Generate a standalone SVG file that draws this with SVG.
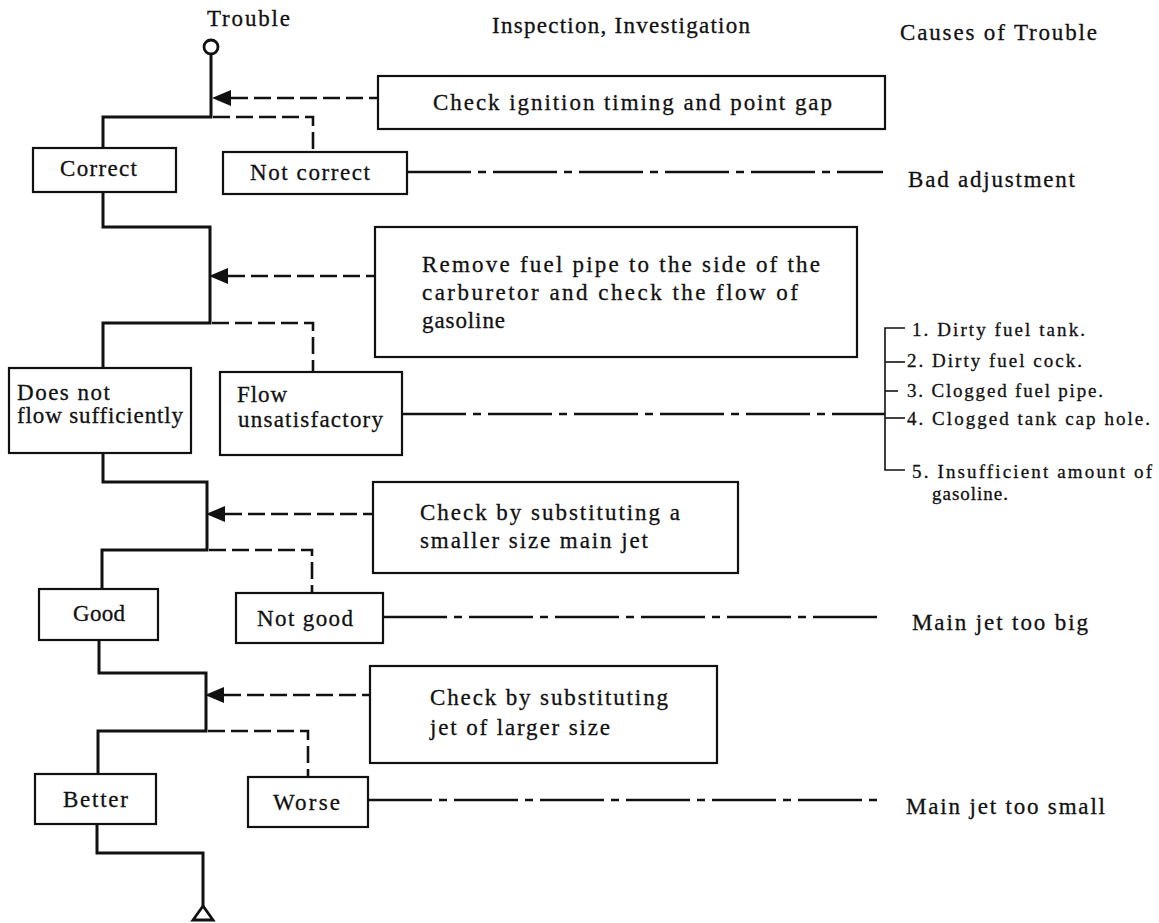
<svg xmlns="http://www.w3.org/2000/svg" width="1159" height="923" viewBox="0 0 1159 923">
  <style>
    text { font-family: "Liberation Serif", "Times New Roman", serif; fill: #111; stroke: #111; stroke-width: 0.3; }
    .t { font-size: 23px; }
    .s { font-size: 19px; }
    .box { fill: #fff; stroke: #111; stroke-width: 2.2; }
    .trunk { fill: none; stroke: #111; stroke-width: 3; stroke-linejoin: miter; }
    .dash { fill: none; stroke: #111; stroke-width: 2.6; stroke-dasharray: 17 6; }
    .chain { fill: none; stroke: #111; stroke-width: 2.6; stroke-dasharray: 64 7 8 7; }
    .thin { fill: none; stroke: #111; stroke-width: 1.6; }
    .head { fill: #111; }
  </style>
  <rect width="1159" height="923" fill="#fff"/>

  <!-- column headings -->
  <g id="headings">
    <text class="t" x="207" y="26" textLength="83" lengthAdjust="spacing">Trouble</text>
    <text class="t" x="492" y="33" textLength="258" lengthAdjust="spacing">Inspection, Investigation</text>
    <text class="t" x="900" y="40" textLength="197" lengthAdjust="spacing">Causes of Trouble</text>
  </g>

  <!-- flow lines -->
  <g id="connectors">
    <!-- start terminal -->
    <circle cx="211" cy="47" r="7" fill="#fff" stroke="#111" stroke-width="2.8"/>
    <!-- level 1 -->
    <polyline class="trunk" points="211,54 211,117 103,117 103,148"/>
    <polyline class="dash" points="213,117 313,117 313,152"/>
    <line class="dash" x1="231" y1="98" x2="378" y2="98"/>
    <polygon class="head" points="212,98 231,90 231,106"/>
    <!-- level 2 -->
    <polyline class="trunk" points="103,192 103,227 210,227 210,323 103,323 103,368"/>
    <polyline class="dash" points="212,323 313,323 313,372"/>
    <line class="dash" x1="228" y1="276" x2="375" y2="276"/>
    <polygon class="head" points="209,276 228,268 228,284"/>
    <!-- level 3 -->
    <polyline class="trunk" points="103,453 103,482 207,482 207,550 102,550 102,589"/>
    <polyline class="dash" points="209,550 312,550 312,593"/>
    <line class="dash" x1="225" y1="514" x2="373" y2="514"/>
    <polygon class="head" points="206,514 225,506 225,522"/>
    <!-- level 4 -->
    <polyline class="trunk" points="99,640 99,673 206,673 206,731 98,731 98,774"/>
    <polyline class="dash" points="208,731 308,731 308,777"/>
    <line class="dash" x1="224" y1="695" x2="370" y2="695"/>
    <polygon class="head" points="205,695 224,687 224,703"/>
    <!-- end terminal -->
    <polyline class="trunk" points="97,824 97,853 203,853 203,906"/>
    <polygon points="203,906 193,920 213,920" fill="#fff" stroke="#111" stroke-width="2.8" stroke-linejoin="miter"/>
    <!-- cause leaders -->
    <line class="chain" x1="407" y1="172" x2="883" y2="172"/>
    <line class="chain" x1="402" y1="414" x2="885" y2="414"/>
    <line class="chain" x1="383" y1="617" x2="883" y2="617"/>
    <line class="chain" x1="368" y1="800" x2="880" y2="800"/>
    <!-- cause bracket -->
    <polyline class="thin" points="905,328 885,328 885,470 905,470"/>
    <line class="thin" x1="885" y1="362" x2="905" y2="362"/>
    <line class="thin" x1="885" y1="391" x2="898" y2="391"/>
    <line class="thin" x1="885" y1="418" x2="905" y2="418"/>
  </g>

  <!-- inspection steps -->
  <g id="check-timing">
    <rect class="box" x="378" y="76" width="507" height="53"/>
    <text class="t" x="433" y="110" textLength="399" lengthAdjust="spacing">Check ignition timing and point gap</text>
  </g>
  <g id="check-fuel-flow">
    <rect class="box" x="375" y="227" width="482" height="130"/>
    <text class="t" x="422" y="272" textLength="398" lengthAdjust="spacing">Remove fuel pipe to the side of the</text>
    <text class="t" x="422" y="300" textLength="376" lengthAdjust="spacing">carburetor and check the flow of</text>
    <text class="t" x="422" y="328" textLength="83" lengthAdjust="spacing">gasoline</text>
  </g>
  <g id="check-smaller-jet">
    <rect class="box" x="373" y="482" width="365" height="91"/>
    <text class="t" x="420" y="520" textLength="260" lengthAdjust="spacing">Check by substituting a</text>
    <text class="t" x="420" y="548" textLength="228" lengthAdjust="spacing">smaller size main jet</text>
  </g>
  <g id="check-larger-jet">
    <rect class="box" x="370" y="666" width="347" height="97"/>
    <text class="t" x="430" y="705" textLength="238" lengthAdjust="spacing">Check by substituting</text>
    <text class="t" x="430" y="735" textLength="180" lengthAdjust="spacing">jet of larger size</text>
  </g>

  <!-- results -->
  <g id="correct">
    <rect class="box" x="33" y="148" width="143" height="44"/>
    <text class="t" x="60" y="176" textLength="77" lengthAdjust="spacing">Correct</text>
  </g>
  <g id="not-correct">
    <rect class="box" x="223" y="152" width="184" height="42"/>
    <text class="t" x="250" y="180" textLength="120" lengthAdjust="spacing">Not correct</text>
  </g>
  <g id="not-flow">
    <rect class="box" x="9" y="368" width="182" height="85"/>
    <text class="t" x="17" y="400" textLength="93" lengthAdjust="spacing">Does not</text>
    <text class="t" x="17" y="423" textLength="166" lengthAdjust="spacing">flow sufficiently</text>
  </g>
  <g id="flow-unsatisfactory">
    <rect class="box" x="220" y="372" width="182" height="83"/>
    <text class="t" x="237" y="402" textLength="50" lengthAdjust="spacing">Flow</text>
    <text class="t" x="238" y="427" textLength="145" lengthAdjust="spacing">unsatisfactory</text>
  </g>
  <g id="good">
    <rect class="box" x="39" y="589" width="119" height="51"/>
    <text class="t" x="73" y="621" textLength="52" lengthAdjust="spacing">Good</text>
  </g>
  <g id="not-good">
    <rect class="box" x="236" y="593" width="147" height="50"/>
    <text class="t" x="257" y="626" textLength="96" lengthAdjust="spacing">Not good</text>
  </g>
  <g id="better">
    <rect class="box" x="35" y="774" width="121" height="50"/>
    <text class="t" x="63" y="807" textLength="65" lengthAdjust="spacing">Better</text>
  </g>
  <g id="worse">
    <rect class="box" x="248" y="777" width="120" height="50"/>
    <text class="t" x="273" y="810" textLength="67" lengthAdjust="spacing">Worse</text>
  </g>

  <!-- causes -->
  <g id="cause-adjustment">
    <text class="t" x="908" y="187" textLength="167" lengthAdjust="spacing">Bad adjustment</text>
  </g>
  <g id="cause-fuel-supply">
    <text class="s" x="912" y="336" textLength="173" lengthAdjust="spacing">1. Dirty fuel tank.</text>
    <text class="s" x="907" y="367" textLength="175" lengthAdjust="spacing">2. Dirty fuel cock.</text>
    <text class="s" x="907" y="397" textLength="196" lengthAdjust="spacing">3. Clogged fuel pipe.</text>
    <text class="s" x="907" y="425" textLength="243" lengthAdjust="spacing">4. Clogged tank cap hole.</text>
    <text class="s" x="912" y="478" textLength="240" lengthAdjust="spacing">5. Insufficient amount of</text>
    <text class="s" x="932" y="500" textLength="76" lengthAdjust="spacing">gasoline.</text>
  </g>
  <g id="cause-jet-big">
    <text class="t" x="912" y="630" textLength="176" lengthAdjust="spacing">Main jet too big</text>
  </g>
  <g id="cause-jet-small">
    <text class="t" x="906" y="814" textLength="199" lengthAdjust="spacing">Main jet too small</text>
  </g>
</svg>
